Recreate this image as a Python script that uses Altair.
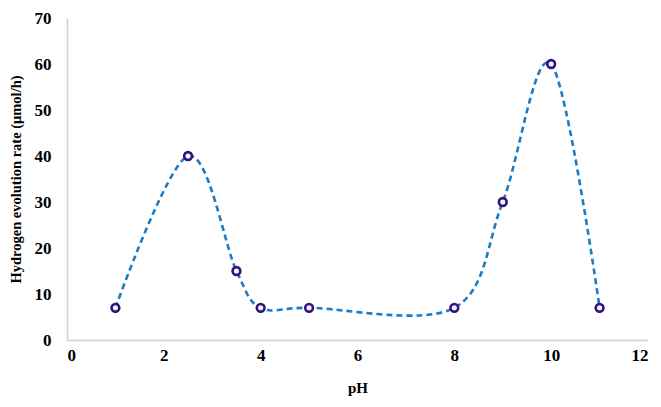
import altair as alt
import pandas as pd

ph = [1, 2.5, 3.5, 4, 5, 8, 9, 10, 11]
rate = [7, 40, 15, 7, 7, 7, 30, 60, 7]

df = pd.DataFrame({"pH": ph, "rate": rate})

x = alt.X("pH:Q", title="pH", scale=alt.Scale(domain=[0, 12], nice=False),
          axis=alt.Axis(values=[0, 2, 4, 6, 8, 10, 12], grid=False, ticks=False,
                        domainColor="#d0d0d0", domainWidth=1.5,
                        labelFont="Liberation Serif", labelFontWeight="bold", labelFontSize=17,
                        labelColor="black", labelPadding=7,
                        titleFont="Liberation Serif", titleFontWeight="bold", titleFontSize=15,
                        titleColor="black", titlePadding=17))
y = alt.Y("rate:Q", title="Hydrogen evolution rate (μmol/h)",
          scale=alt.Scale(domain=[0, 70], nice=False),
          axis=alt.Axis(values=[0, 10, 20, 30, 40, 50, 60, 70], grid=False, ticks=False,
                        domainColor="#d0d0d0", domainWidth=1.5,
                        labelFont="Liberation Serif", labelFontWeight="bold", labelFontSize=17,
                        labelColor="black", labelPadding=16,
                        titleFont="Liberation Serif", titleFontWeight="bold", titleFontSize=14.5,
                        titleColor="black", titlePadding=11))

line = alt.Chart(df).mark_line(interpolate="cardinal", color="#1a7cc7", strokeWidth=2.6,
                               strokeDash=[6, 4]).encode(x=x, y=y)
pts = alt.Chart(df).mark_point(shape="circle", size=60, filled=False, strokeWidth=2.6,
                               color="#35107a", fill="#e8f8ff", fillOpacity=1).encode(x=x, y=y)

chart = (line + pts).properties(
    width=581, height=322,
    autosize=alt.AutoSizeParams(type="none"),
    padding={"left": 59, "top": 10, "right": 3, "bottom": 59},
).configure_view(stroke=None)

chart.save("out.html", embed_options={"renderer": "svg", "actions": False})
